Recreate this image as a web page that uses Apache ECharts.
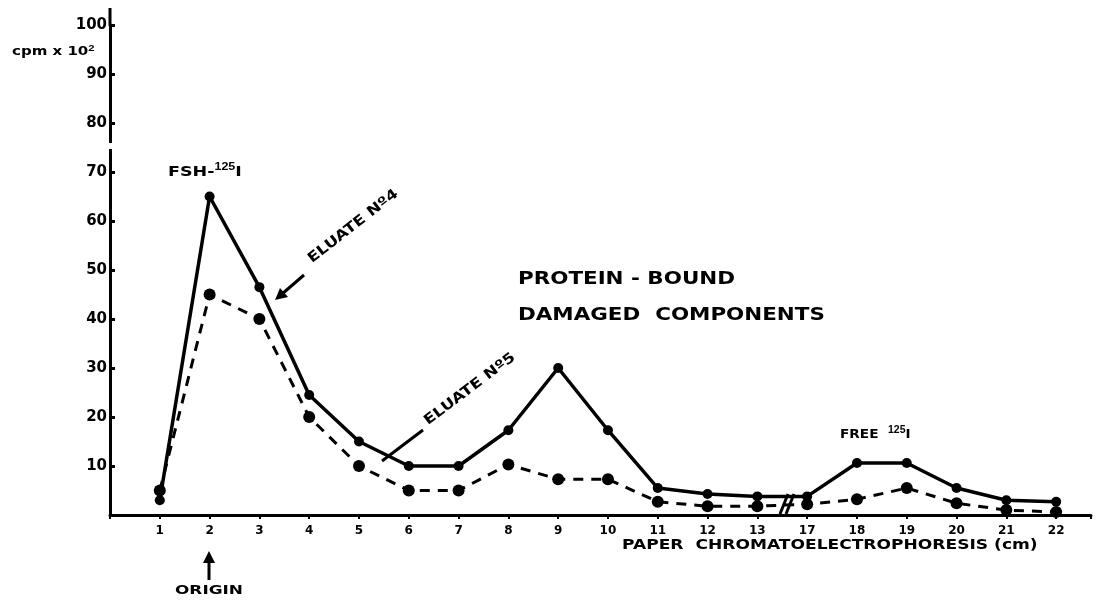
<!DOCTYPE html>
<html><head><meta charset="utf-8">
<script src="https://cdn.jsdelivr.net/npm/echarts@6/dist/echarts.min.js"></script>
<style>html,body{margin:0;padding:0;background:#fff}#c{width:1097px;height:603px}</style>
</head><body><div id="c"></div>
<script>
const categories = ['1','2','3','4','5','6','7','8','9','10','11','12','13','17','18','19','20','21','22'];
const eluate4 = [3, 65, 46.5, 24.5, 15, 10, 10, 17.3, 30, 17.3, 5.5, 4.3, 3.8, 3.8, 10.6, 10.6, 5.5, 3, 2.7];
const eluate5 = [5, 45, 40, 20, 10, 5, 5, 10.3, 7.3, 7.3, 2.7, 1.8, 1.8, 2.2, 3.2, 5.5, 2.4, 1, 0.6];
const yTicks = [10,20,30,40,50,60,70,80,90,100];

const chart = echarts.init(document.getElementById('c'), null, {renderer:'canvas'});
const F = 'DejaVu Sans';
const pts = arr => arr.map((v,i)=>[i+1, v]);
const deg = d => d*Math.PI/180;

chart.setOption({
  animation:false,
  backgroundColor:'#fff',
  grid:{left:110, right:6, top:25, bottom:88, containLabel:false},
  xAxis:{type:'value', min:0, max:19.7, interval:1,
    axisLine:{lineStyle:{color:'#000', width:3}},
    axisTick:{show:true, length:4, lineStyle:{color:'#000', width:2}},
    splitLine:{show:false},
    axisLabel:{color:'#000', fontFamily:F, fontWeight:'bold', fontSize:12, margin:10,
      formatter: v => (Number.isInteger(v) && v>=1 && v<=categories.length) ? categories[v-1] : ''}
  },
  yAxis:{type:'value', min:0, max:100, interval:10,
    axisLine:{show:true, lineStyle:{color:'#000', width:3}},
    axisTick:{show:true, inside:true, length:5, lineStyle:{color:'#000', width:3}},
    splitLine:{show:false},
    axisLabel:{color:'#000', fontFamily:F, fontWeight:'bold', fontSize:15, margin:3,
      formatter: v => yTicks.includes(v) ? String(v) : ''}
  },
  series:[
    {name:'Eluate Nº4', type:'line', data:pts(eluate4), symbol:'circle', symbolSize:10,
      lineStyle:{color:'#000', width:3.5}, itemStyle:{color:'#000'}, z:3},
    {name:'Eluate Nº5', type:'line', data:pts(eluate5), symbol:'circle', symbolSize:12,
      lineStyle:{color:'#000', width:3, type:[10,8]}, itemStyle:{color:'#000'}, z:2}
  ],
  graphic:[
    {type:'line', shape:{x1:110,y1:8,x2:110,y2:26}, style:{stroke:'#000', lineWidth:3}, z:100},
    {type:'rect', shape:{x:105,y:143,width:10,height:6}, style:{fill:'#fff'}, z:100},
    {type:'text', x:12, y:44, scaleX:1.25, style:{text:'cpm x 10{s|2}', font:'bold 12px "DejaVu Sans"', fill:'#000',
      rich:{s:{fontSize:9, fontWeight:'bold', padding:[0,0,6,0]}}}, z:100},
    // axis break marks
    {type:'line', shape:{x1:780,y1:514,x2:788,y2:494}, style:{stroke:'#000', lineWidth:3}, z:100},
    {type:'line', shape:{x1:786,y1:514,x2:794,y2:494}, style:{stroke:'#000', lineWidth:3}, z:100},
    // annotations
    {type:'text', x:168, y:162, scaleX:1.25, style:{text:'FSH-{s|125}I', font:'bold 14px "DejaVu Sans"', fill:'#000',
      rich:{s:{fontSize:10, fontWeight:'bold', padding:[0,0,10,0]}}}, z:100},
    {type:'text', x:314, y:266, rotation:deg(38), scaleX:1.2, style:{text:'ELUATE Nº4', font:'bold 14px "DejaVu Sans"', fill:'#000', verticalAlign:'bottom'}, z:100},
    {type:'line', shape:{x1:304,y1:275,x2:282,y2:294}, style:{stroke:'#000', lineWidth:3}, z:100},
    {type:'polygon', shape:{points:[[275,300],[280,288],[288,297]]}, style:{fill:'#000'}, z:100},
    {type:'text', x:430, y:428, rotation:deg(37), scaleX:1.2, style:{text:'ELUATE Nº5', font:'bold 14px "DejaVu Sans"', fill:'#000', verticalAlign:'bottom'}, z:100},
    {type:'line', shape:{x1:423,y1:430,x2:382,y2:461}, style:{stroke:'#000', lineWidth:3}, z:100},
    {type:'text', x:518, y:261, scaleX:1.19, style:{text:'PROTEIN - BOUND\nDAMAGED  COMPONENTS', font:'bold 18px "DejaVu Sans"', fill:'#000', lineHeight:36, verticalAlign:'top'}, z:100},
    {type:'text', x:840, y:425, scaleX:1.05, style:{text:'FREE  {s|125}I', font:'bold 13px "DejaVu Sans"', fill:'#000',
      rich:{s:{fontSize:10, fontWeight:'bold', padding:[0,0,10,0]}}}, z:100},
    {type:'line', shape:{x1:209,y1:580,x2:209,y2:560}, style:{stroke:'#000', lineWidth:3}, z:100},
    {type:'polygon', shape:{points:[[209,551],[203,563],[215,563]]}, style:{fill:'#000'}, z:100},
    {type:'text', x:175, y:584, scaleX:1.3, style:{text:'ORIGIN', font:'bold 13px "DejaVu Sans"', fill:'#000', verticalAlign:'top'}, z:100},
    {type:'text', x:622, y:538, scaleX:1.22, style:{text:'PAPER  CHROMATOELECTROPHORESIS (cm)', font:'bold 14px "DejaVu Sans"', fill:'#000', verticalAlign:'top'}, z:100}
  ]
});
</script></body></html>
